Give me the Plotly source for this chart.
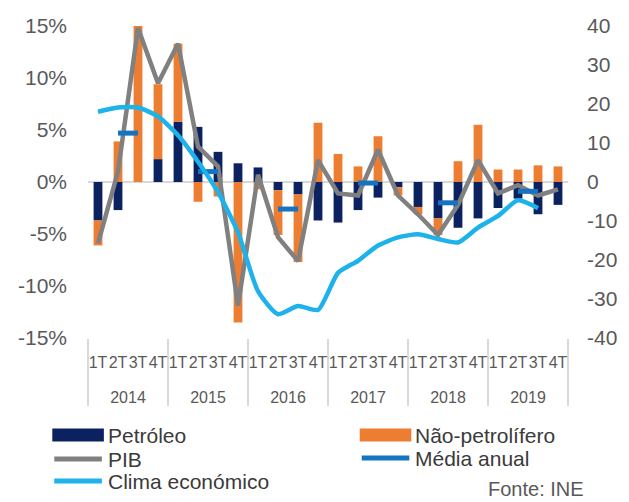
import plotly.graph_objects as go

# quarterly data, 2014-2019
years = ["2014", "2015", "2016", "2017", "2018", "2019"]
quarters = ["1T", "2T", "3T", "4T"]

# contributions to GDP growth (%)
petroleo = [-3.7, -2.7, 0.0, 2.2, 5.8, 5.3, 2.9, 1.8, 1.4, -0.8, -1.2, -3.7,
            -3.9, -2.7, -1.5, -0.5, -2.4, -3.5, -4.4, -3.5, -2.5, -1.6, -3.1, -2.2]
nao_petrolifero = [-2.4, 3.9, 15.0, 7.2, 7.5, -1.9, -1.4, -13.5, -0.7, -4.3, -6.5, 5.7,
                   2.7, 1.5, 4.4, -0.8, -0.7, -1.6, 2.0, 5.5, 1.2, 1.2, 1.6, 1.5]
pib = [-5.9, 1.0, 14.8, 9.5, 13.3, 3.4, 1.5, -11.9, 0.7, -5.3, -7.6, 2.1,
       -1.1, -1.3, 3.1, -1.3, -3.1, -5.1, -2.2, 2.1, -1.1, -0.3, -1.3, -0.7]
media_anual = [None, 4.7, 4.7, None, None, 1.0, 1.0, None, None, -2.6, -2.6, None,
               None, -0.1, -0.1, None, None, -2.0, -2.0, None, None, -0.9, -0.9, None]
# economic climate indicator (right axis)
clima = [18.0, 19.1, 19.1, 16.8, 12.0, 5.2, -2.6, -12.9, -28.0, -33.9, -31.8, -32.8,
         -23.3, -20.2, -16.3, -14.2, -13.4, -14.6, -15.5, -11.7, -8.7, -4.7, -6.7, None]

left_ticks = [-15, -10, -5, 0, 5, 10, 15]
left_labels = ["-15%", "-10%", "-5%", "0%", "5%", "10%", "15%"]
right_ticks = [-40, -30, -20, -10, 0, 10, 20, 30, 40]
right_labels = ["-40", "-30", "-20", "-10", "0", "10", "20", "30", "40"]

COLORS = {
    "petroleo": "#0c2160",
    "nao_petrolifero": "#ed7d31",
    "pib": "#808080",
    "media": "#1673c2",
    "clima": "#1db2ec",
    "text": "#595959",
    "legend": "#3a3a3a",
    "grid": "#d9d9d9",
}

# axis labels drawn at 16px inside a larger tick font; the quarter row gets an
# empty second line so the year row sits lower, as in the original
LBL = "<span style='font-size:16px'>{}</span>"
x = [[LBL.format(y) for y in years for q in quarters],
     [LBL.format(q) + "<br>&nbsp;" for y in years for q in quarters]]

fig = go.Figure()
fig.add_trace(go.Bar(x=x, y=petroleo, name="Petróleo",
                     marker=dict(color=COLORS["petroleo"], line_width=0)))
fig.add_trace(go.Bar(x=x, y=nao_petrolifero, name="Não-petrolífero",
                     marker=dict(color=COLORS["nao_petrolifero"], line_width=0)))
fig.add_trace(go.Scatter(x=x, y=pib, name="PIB", mode="lines",
                         line=dict(color=COLORS["pib"], width=4.5)))
fig.add_trace(go.Scatter(x=x, y=media_anual, name="Média anual", mode="lines",
                         line=dict(color=COLORS["media"], width=5)))
fig.add_trace(go.Scatter(x=x, y=clima, name="Clima económico", mode="lines",
                         yaxis="y2",
                         line=dict(color=COLORS["clima"], width=4.5,
                                   shape="spline", smoothing=0.6)))

# plot area in pixels, used to place the hand-drawn legend
PL, PR, PT, PB = 88, 572, 26, 338


def px(v):
    return (v - PL) / (PR - PL)


def py(v):
    return (PB - v) / (PB - PT)


legend_items = [
    ("Petróleo", "petroleo", "box", 52, 435),
    ("Não-petrolífero", "nao_petrolifero", "box", 362, 435),
    ("PIB", "pib", "line", 52, 459),
    ("Média anual", "media", "line", 362, 458),
    ("Clima económico", "clima", "line", 52, 481),
]

shapes = []
annotations = []
for label, key, kind, lx, ly in legend_items:
    if kind == "box":
        shapes.append(dict(type="rect", xref="paper", yref="paper",
                           x0=px(lx), x1=px(lx + 52), y0=py(ly - 6.5), y1=py(ly + 6.5),
                           fillcolor=COLORS[key], line_width=0))
    else:
        shapes.append(dict(type="line", xref="paper", yref="paper",
                           x0=px(lx + 2), x1=px(lx + 50), y0=py(ly), y1=py(ly),
                           line=dict(color=COLORS[key], width=5)))
    annotations.append(dict(text=label, xref="paper", yref="paper",
                            x=px(lx + 54), y=py(ly), xanchor="left", yanchor="middle",
                            showarrow=False,
                            font=dict(size=21, color=COLORS["legend"])))

annotations.append(dict(text="Fonte: INE", xref="paper", yref="paper",
                        x=px(590), y=py(489), xanchor="right", yanchor="middle",
                        showarrow=False, font=dict(size=20, color=COLORS["text"])))

fig.update_layout(
    width=629,
    height=502,
    barmode="relative",
    bargap=0.56,
    showlegend=False,
    plot_bgcolor="white",
    paper_bgcolor="white",
    font=dict(family="Liberation Sans, Arial, sans-serif", color=COLORS["text"]),
    margin=dict(l=PL, r=629 - PR, t=PT, b=502 - PB),
    xaxis=dict(
        type="multicategory",
        tickmode="linear",
        tick0=0,
        dtick=1,
        showgrid=False,
        showline=False,
        zeroline=False,
        ticks="",
        tickangle=0,
        ticklabelstandoff=10,
        tickfont=dict(size=19, color=COLORS["text"]),
        showdividers=True,
        dividercolor=COLORS["grid"],
        dividerwidth=1.5,
    ),
    yaxis=dict(
        range=[-15, 15],
        tickvals=left_ticks,
        ticktext=left_labels,
        showgrid=False,
        zeroline=True,
        zerolinecolor=COLORS["grid"],
        zerolinewidth=1.5,
        showline=False,
        ticks="",
        ticklabelstandoff=20,
        tickfont=dict(size=21, color=COLORS["text"]),
    ),
    yaxis2=dict(
        range=[-40, 40],
        overlaying="y",
        side="right",
        tickvals=right_ticks,
        ticktext=right_labels,
        showgrid=False,
        zeroline=False,
        showline=False,
        ticks="",
        ticklabelstandoff=18,
        tickfont=dict(size=21, color=COLORS["text"]),
    ),
    shapes=shapes,
    annotations=annotations,
)

# the page body has a default 8px margin; remove it so the figure sits at the corner
fig.write_html("out.html", config={"displayModeBar": False},
               post_script="document.body.style.margin = '0px';")
